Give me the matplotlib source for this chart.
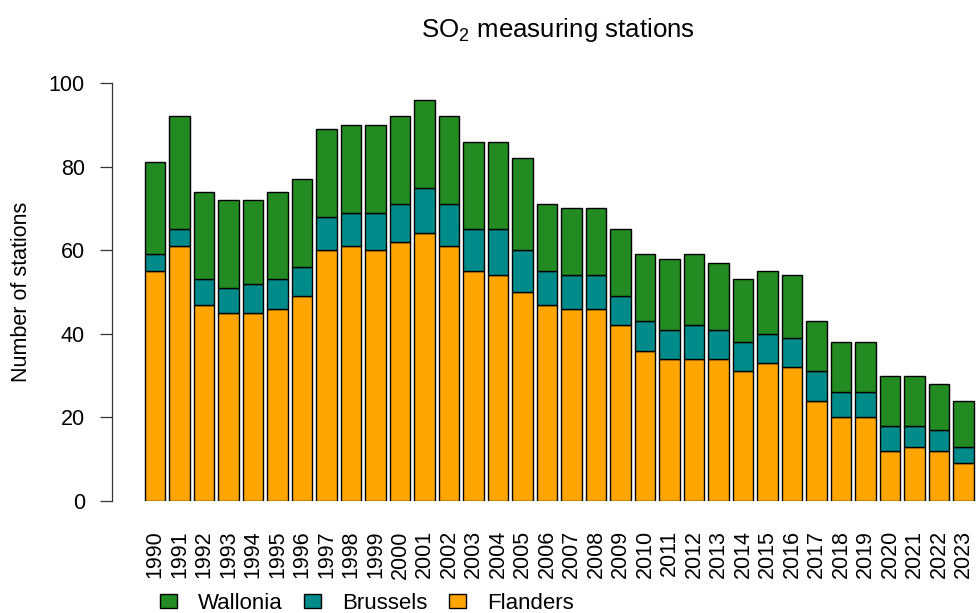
import numpy as np
import matplotlib
matplotlib.use("Agg")
import matplotlib.pyplot as plt
from matplotlib.patches import Patch

plt.rcParams['font.family'] = ['Liberation Sans', 'DejaVu Sans']
plt.rcParams['mathtext.fontset'] = 'custom'
plt.rcParams['mathtext.rm'] = 'Liberation Sans'
plt.rcParams['mathtext.it'] = 'Liberation Sans:italic'

# number of SO2 measuring stations per region
years = list(range(1990, 2024))
flanders = [55, 61, 47, 45, 45, 46, 49, 60, 61, 60, 62, 64, 61, 55, 54, 50, 47,
            46, 46, 42, 36, 34, 34, 34, 31, 33, 32, 24, 20, 20, 12, 13, 12, 9]
brussels = [4, 4, 6, 6, 7, 7, 7, 8, 8, 9, 9, 11, 10, 10, 11, 10, 8,
            8, 8, 7, 7, 7, 8, 7, 7, 7, 7, 7, 6, 6, 6, 5, 5, 4]
wallonia = [22, 27, 21, 21, 20, 21, 21, 21, 21, 21, 21, 21, 21, 21, 21, 22, 16,
            16, 16, 16, 16, 17, 17, 16, 15, 15, 15, 12, 12, 12, 12, 12, 11, 11]

col_fl = '#FFA500'
col_bx = '#008B8B'
col_wa = '#228B22'
fs = 15.5

fig = plt.figure(figsize=(9.76, 6.13), dpi=100)
ax = fig.add_axes([112/976, 112/613, 864/976, 418/613])

x = np.arange(len(years))
fl = np.array(flanders)
bx = np.array(brussels)
wa = np.array(wallonia)
w = 0.833
ax.bar(x, fl, w, color=col_fl, edgecolor='black', linewidth=1.0)
ax.bar(x, bx, w, bottom=fl, color=col_bx, edgecolor='black', linewidth=1.0)
ax.bar(x, wa, w, bottom=fl + bx, color=col_wa, edgecolor='black', linewidth=1.0)

ax.set_xlim(-1.755, 33.51)
ax.set_ylim(0, 100)
for s in ['top', 'right', 'bottom']:
    ax.spines[s].set_visible(False)
ax.spines['left'].set_color('#333333')
ax.spines['left'].set_linewidth(0.9)

ax.set_yticks([0, 20, 40, 60, 80, 100])
ax.tick_params(axis='y', length=8.6, width=0.9, color='#333333', pad=11,
               labelsize=fs)
ax.set_xticks(x)
ax.set_xticklabels([str(y) for y in years], rotation=90)
ax.tick_params(axis='x', length=0, pad=21, labelsize=fs)

ax.set_ylabel('Number of stations', fontsize=fs)
ax.yaxis.set_label_coords(-0.093, 0.5)

fig.text(558/976, (613 - 37)/613, r'SO$_2$ measuring stations', fontsize=18.6,
         ha='center', va='baseline')

handles = [Patch(facecolor=col_wa, edgecolor='black', linewidth=1.0, label='Wallonia'),
           Patch(facecolor=col_bx, edgecolor='black', linewidth=1.0, label='Brussels'),
           Patch(facecolor=col_fl, edgecolor='black', linewidth=1.0, label='Flanders')]
fig.legend(handles=handles, ncol=3, loc='center left',
           bbox_to_anchor=(160/976, (613 - 603.5)/613), frameon=False,
           fontsize=16, handlelength=0.77, handleheight=0.63,
           handletextpad=0.95, columnspacing=0.95, borderpad=0,
           borderaxespad=0)

fig.savefig('out.png', dpi=100)
